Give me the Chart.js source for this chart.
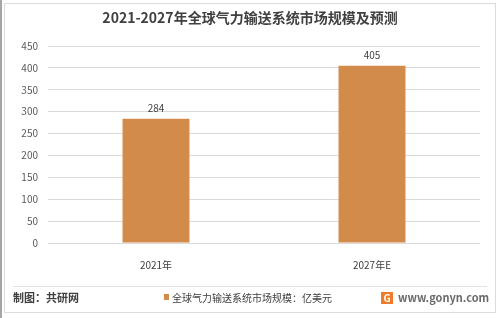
<!DOCTYPE html>
<html>
<head>
<meta charset="utf-8">
<script src="https://cdn.jsdelivr.net/npm/chart.js@4/dist/chart.umd.min.js"></script>
<style>
  html, body { margin: 0; padding: 0; background: #fff; }
  #wrap { width: 500px; height: 318px; position: relative; }
</style>
</head>
<body>
<div id="wrap"><canvas id="c" width="500" height="318"></canvas></div>
<script>
const categories = ['2021年', '2027年E'];
const marketSize = [284, 405];
const seriesLabel = '全球气力输送系统市场规模：亿美元';
const titleText = '2021-2027年全球气力输送系统市场规模及预测';
const sourceText = '制图：共研网';
const siteText = 'www.gonyn.com';

const FONT = '"Noto Sans CJK SC", "Noto Sans", sans-serif';
const BAR_COLOR = '#D38B4C';

// frame, title, value labels, footer
const decorPlugin = {
  id: 'decor',
  beforeDraw(chart) {
    const { ctx } = chart;
    ctx.save();
    ctx.fillStyle = '#fff';
    ctx.fillRect(0, 0, 500, 318);
    ctx.fillStyle = '#a6a6a6';
    ctx.fillRect(0, 0, 2, 318);
    ctx.strokeStyle = '#dcdcdc';
    ctx.lineWidth = 1;
    ctx.strokeRect(4.5, 3.5, 491, 309);
    ctx.restore();
  },
  afterDraw(chart) {
    const { ctx } = chart;
    ctx.save();
    ctx.fillStyle = '#404040';
    ctx.font = `bold 14px ${FONT}`;
    ctx.textAlign = 'center';
    ctx.textBaseline = 'middle';
    ctx.fillText(titleText, 250, 18);

    const meta = chart.getDatasetMeta(0);
    ctx.font = `10px ${FONT}`;
    ctx.fillStyle = '#404040';
    ctx.textBaseline = 'bottom';
    meta.data.forEach((bar, i) => {
      ctx.fillText(String(marketSize[i]), bar.x, bar.y - 5);
    });

    ctx.strokeStyle = '#e2e2e2';
    ctx.beginPath();
    ctx.moveTo(13, 286.5);
    ctx.lineTo(487, 286.5);
    ctx.stroke();

    ctx.textBaseline = 'middle';
    ctx.textAlign = 'left';
    ctx.font = `bold 11px ${FONT}`;
    ctx.fillStyle = '#404040';
    ctx.fillText(sourceText, 13, 298);

    ctx.fillStyle = BAR_COLOR;
    ctx.fillRect(164, 294, 5, 6);
    ctx.font = `10px ${FONT}`;
    ctx.fillStyle = '#404040';
    ctx.fillText(seriesLabel, 172, 298);

    ctx.fillStyle = '#F07B2A';
    ctx.fillRect(381, 292, 12, 12);
    ctx.fillStyle = '#fff';
    ctx.font = `bold 10px ${FONT}`;
    ctx.textAlign = 'center';
    ctx.fillText('G', 387, 298);
    ctx.textAlign = 'left';
    ctx.fillStyle = '#6a6a6a';
    ctx.font = `bold 11px ${FONT}`;
    ctx.fillText(siteText, 398, 298);
    ctx.restore();
  },
};

new Chart(document.getElementById('c'), {
  type: 'bar',
  data: {
    labels: categories,
    datasets: [{
      label: seriesLabel,
      data: marketSize,
      backgroundColor: BAR_COLOR,
      borderWidth: 0,
      barPercentage: 0.31,
      categoryPercentage: 1,
    }],
  },
  options: {
    responsive: false,
    animation: false,
    devicePixelRatio: 1,
    layout: { padding: { top: 46, right: 20, bottom: 0, left: 0 } },
    plugins: { legend: { display: false }, tooltip: { enabled: false } },
    scales: {
      x: {
        grid: { display: false },
        border: { display: false },
        ticks: { color: '#404040', font: { family: FONT, size: 10 }, padding: 8 },
        afterFit(s) { s.height = 75; },
      },
      y: {
        min: 0, max: 450,
        ticks: { stepSize: 50, color: '#595959', font: { family: FONT, size: 10 }, padding: 10 },
        grid: { color: '#d9d9d9', drawTicks: false },
        border: { display: false },
        afterFit(s) { s.width = 48; },
      },
    },
  },
  plugins: [decorPlugin],
});
</script>
</body>
</html>
